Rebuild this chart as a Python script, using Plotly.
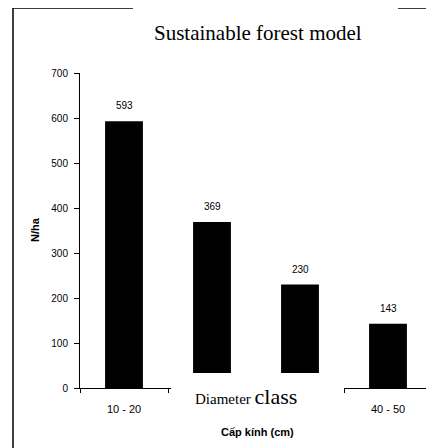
import plotly.graph_objects as go

categories = ["10 - 20", "20 - 30", "30 - 40", "40 - 50"]
tick_labels = ["10 - 20", "", "", "40 - 50"]
values = [593, 369, 230, 143]
y_ticks = [0, 100, 200, 300, 400, 500, 600, 700]

OFF = 8  # page body margin
W, H = 434 - OFF, 448 - OFF
L, R, T, B = 72, 2, 65, 60
PW, PH = W - L - R, H - T - B

def px(x):
    return (x - OFF - L) / PW

def py(y):
    return (H - B - (y - OFF)) / PH

fig = go.Figure()
fig.add_trace(go.Bar(
    x=categories, y=values, marker=dict(color="black", line=dict(width=0)),
    width=0.43, showlegend=False, hoverinfo="skip"))

annotations = []
for c, v in zip(categories, values):
    annotations.append(dict(x=c, y=v, xref="x", yref="y", text=str(v), showarrow=False,
                            yanchor="bottom", yshift=8,
                            font=dict(family="Arial, Liberation Sans", size=10, color="black")))

annotations += [
    dict(x=px(258), y=py(33), xref="paper", yref="paper", text="Sustainable forest model",
         showarrow=False, xanchor="center", yanchor="middle",
         font=dict(family="Liberation Serif, Times New Roman", size=21, color="black")),
    dict(x=px(246), y=py(396), xref="paper", yref="paper",
         text="Diameter <span style='font-size:22px'>class</span>",
         showarrow=False, xanchor="center", yanchor="middle",
         font=dict(family="Liberation Serif, Times New Roman", size=15, color="black")),
    dict(x=px(257), y=py(432), xref="paper", yref="paper", text="<b>Cấp kính (cm)</b>",
         showarrow=False, xanchor="center", yanchor="middle",
         font=dict(family="Arial, Liberation Sans", size=11, color="black")),
    dict(x=px(35), y=py(230), xref="paper", yref="paper", text="<b>N/ha</b>", textangle=-90,
         showarrow=False, xanchor="center", yanchor="middle",
         font=dict(family="Arial, Liberation Sans", size=11, color="black")),
]

shapes = [
    # outer frame
    dict(type="rect", xref="paper", yref="paper", x0=px(13), x1=px(445), y0=py(470), y1=py(8),
         line=dict(color="black", width=1.5), fillcolor="rgba(0,0,0,0)", layer="above"),
    # white box behind title (breaks top frame)
    dict(type="rect", xref="paper", yref="paper", x0=px(133), x1=px(398), y0=py(25), y1=py(-5),
         line=dict(width=0), fillcolor="white", layer="above"),
    # white box over middle x-axis area
    dict(type="rect", xref="paper", yref="paper", x0=px(171), x1=px(344), y0=py(460), y1=py(373),
         line=dict(width=0), fillcolor="white", layer="above"),
]

fig.update_layout(
    width=W, height=H, margin=dict(l=L, r=R, t=T, b=B),
    paper_bgcolor="white", plot_bgcolor="white",
    annotations=annotations, shapes=shapes,
    font=dict(family="Arial, Liberation Sans", size=10, color="black"),
    xaxis=dict(type="category", range=[-0.5, 3.5], showline=True, linecolor="black", linewidth=1,
               tickmode="array", tickvals=categories, ticktext=tick_labels,
               ticks="outside", tickson="boundaries", ticklen=4, tickcolor="black",
               ticklabelstandoff=11,
               showgrid=False, zeroline=False, tickfont=dict(size=11)),
    yaxis=dict(range=[0, 700], tickvals=y_ticks, showline=True, linecolor="black", linewidth=1,
               ticks="outside", ticklen=5, tickcolor="black", showgrid=False, zeroline=False,
               ticklabelstandoff=4, tickfont=dict(size=10)),
)

fig.write_html("out.html")
